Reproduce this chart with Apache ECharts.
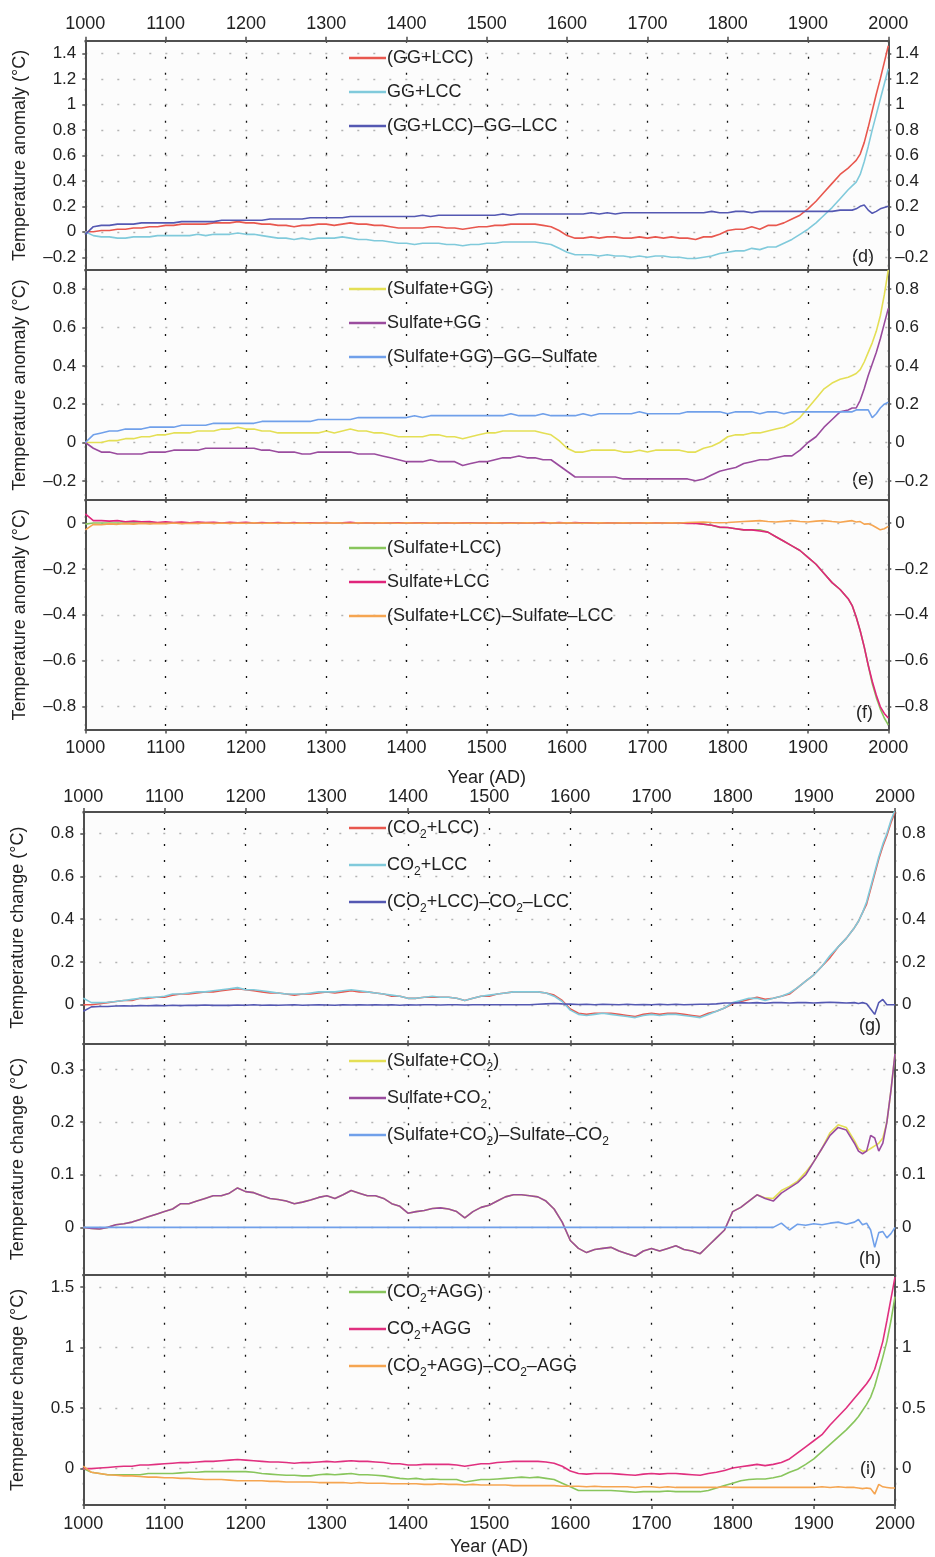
<!DOCTYPE html>
<html>
<head>
<meta charset="utf-8">
<script src="https://cdn.jsdelivr.net/npm/echarts@6.0.0/dist/echarts.min.js"></script>
<style>
html,body{margin:0;padding:0;background:#ffffff;}
#chart{width:935px;height:1557px;}
</style>
</head>
<body>
<div id="chart"></div>
<script>
// ---------------- DATA ----------------
const years = [
1000,1010,1020,1030,1040,1050,1060,1070,1080,1090,
1100,1110,1120,1130,1140,1150,1160,1170,1180,1190,
1200,1210,1220,1230,1240,1250,1260,1270,1280,1290,
1300,1310,1320,1330,1340,1350,1360,1370,1380,1390,
1400,1410,1420,1430,1440,1450,1460,1470,1480,1490,
1500,1510,1520,1530,1540,1550,1560,1570,1580,1590,
1600,1610,1620,1630,1640,1650,1660,1670,1680,1690,
1700,1710,1720,1730,1740,1750,1760,1770,1780,1790,
1800,1810,1820,1830,1840,1850,1860,1870,1880,1890,
1900,1910,1920,1930,1940,1950,
1955,1960,1965,1970,1975,1980,1985,1990,1995,2000];

// panel (d)
const dRed = [
0,0,0.01,0.01,0.02,0.02,0.03,0.03,0.04,0.04,
0.05,0.05,0.06,0.06,0.06,0.06,0.07,0.07,0.07,0.08,
0.07,0.07,0.06,0.06,0.05,0.05,0.04,0.05,0.05,0.06,
0.06,0.05,0.06,0.07,0.06,0.06,0.05,0.05,0.04,0.03,
0.03,0.03,0.03,0.04,0.04,0.03,0.03,0.02,0.03,0.04,
0.04,0.05,0.05,0.06,0.06,0.06,0.06,0.05,0.04,0.01,
-0.03,-0.05,-0.05,-0.04,-0.05,-0.04,-0.04,-0.05,-0.05,-0.04,
-0.05,-0.04,-0.05,-0.04,-0.05,-0.05,-0.06,-0.04,-0.04,-0.02,
0.01,0.02,0.02,0.04,0.02,0.05,0.05,0.07,0.1,0.13,
0.18,0.24,0.31,0.38,0.45,0.5,
0.53,0.56,0.61,0.7,0.82,0.95,1.08,1.2,1.33,1.46];
const dCyan = [
0,-0.03,-0.04,-0.04,-0.05,-0.05,-0.04,-0.04,-0.04,-0.03,
-0.03,-0.03,-0.03,-0.03,-0.02,-0.03,-0.02,-0.02,-0.02,-0.01,
-0.02,-0.02,-0.03,-0.04,-0.05,-0.05,-0.06,-0.05,-0.06,-0.05,
-0.05,-0.05,-0.04,-0.05,-0.06,-0.06,-0.07,-0.07,-0.08,-0.09,
-0.09,-0.1,-0.09,-0.09,-0.09,-0.1,-0.1,-0.11,-0.1,-0.1,
-0.09,-0.09,-0.08,-0.08,-0.08,-0.08,-0.08,-0.09,-0.1,-0.13,
-0.16,-0.18,-0.18,-0.18,-0.19,-0.18,-0.19,-0.19,-0.2,-0.19,
-0.2,-0.19,-0.19,-0.2,-0.2,-0.21,-0.21,-0.2,-0.19,-0.17,
-0.16,-0.15,-0.15,-0.13,-0.14,-0.12,-0.12,-0.09,-0.06,-0.02,
0.02,0.07,0.13,0.19,0.26,0.33,
0.36,0.39,0.45,0.55,0.67,0.8,0.92,1.04,1.16,1.28];
const dDiff = [
-0.02,0.04,0.05,0.05,0.06,0.06,0.06,0.07,0.07,0.07,
0.07,0.07,0.08,0.08,0.08,0.08,0.08,0.09,0.09,0.09,
0.09,0.09,0.09,0.1,0.1,0.1,0.1,0.1,0.11,0.11,
0.11,0.11,0.11,0.12,0.12,0.12,0.12,0.12,0.12,0.12,
0.12,0.12,0.13,0.12,0.13,0.13,0.13,0.13,0.13,0.13,
0.13,0.13,0.14,0.13,0.14,0.14,0.14,0.14,0.14,0.14,
0.14,0.14,0.14,0.15,0.14,0.15,0.14,0.15,0.15,0.15,
0.15,0.15,0.15,0.15,0.15,0.15,0.15,0.15,0.16,0.15,
0.15,0.16,0.16,0.15,0.16,0.16,0.16,0.16,0.16,0.16,
0.16,0.16,0.16,0.16,0.17,0.17,
0.17,0.18,0.2,0.21,0.17,0.145,0.16,0.18,0.19,0.2];

// panel (e)
const eYellow = [
0,0,0,0.01,0.01,0.02,0.02,0.03,0.03,0.04,
0.04,0.05,0.05,0.05,0.06,0.06,0.06,0.07,0.07,0.08,
0.07,0.07,0.06,0.06,0.05,0.05,0.05,0.05,0.05,0.05,
0.06,0.05,0.06,0.07,0.06,0.06,0.05,0.05,0.04,0.03,
0.03,0.03,0.03,0.04,0.04,0.03,0.03,0.02,0.03,0.04,
0.05,0.05,0.06,0.06,0.06,0.06,0.06,0.05,0.04,0.01,
-0.03,-0.05,-0.05,-0.04,-0.04,-0.04,-0.04,-0.05,-0.05,-0.04,
-0.05,-0.04,-0.04,-0.04,-0.04,-0.05,-0.05,-0.03,-0.02,0,
0.03,0.04,0.04,0.05,0.05,0.06,0.07,0.08,0.1,0.13,
0.18,0.23,0.28,0.31,0.33,0.34,
0.35,0.36,0.38,0.42,0.47,0.52,0.58,0.66,0.77,0.9];
const ePurple = [
0,-0.03,-0.05,-0.05,-0.06,-0.06,-0.06,-0.06,-0.05,-0.05,
-0.05,-0.04,-0.04,-0.04,-0.04,-0.03,-0.03,-0.03,-0.03,-0.03,
-0.03,-0.03,-0.04,-0.04,-0.05,-0.05,-0.05,-0.06,-0.06,-0.05,
-0.05,-0.05,-0.05,-0.05,-0.06,-0.06,-0.06,-0.07,-0.08,-0.09,
-0.1,-0.1,-0.1,-0.09,-0.1,-0.1,-0.1,-0.12,-0.11,-0.1,
-0.1,-0.09,-0.08,-0.08,-0.07,-0.08,-0.08,-0.09,-0.09,-0.12,
-0.15,-0.18,-0.18,-0.18,-0.18,-0.18,-0.18,-0.19,-0.19,-0.19,
-0.19,-0.19,-0.19,-0.19,-0.19,-0.19,-0.2,-0.19,-0.17,-0.15,
-0.14,-0.13,-0.11,-0.1,-0.09,-0.09,-0.08,-0.07,-0.07,-0.04,
0,0.03,0.08,0.12,0.16,0.17,
0.18,0.18,0.22,0.28,0.35,0.41,0.47,0.54,0.62,0.7];
const eDiff = [
0,0.04,0.05,0.06,0.06,0.07,0.07,0.07,0.08,0.08,
0.08,0.08,0.09,0.09,0.09,0.09,0.1,0.1,0.1,0.1,
0.1,0.1,0.11,0.11,0.11,0.11,0.11,0.11,0.11,0.12,
0.12,0.12,0.12,0.12,0.13,0.13,0.13,0.13,0.13,0.13,
0.13,0.14,0.13,0.14,0.14,0.14,0.14,0.14,0.14,0.14,
0.14,0.14,0.14,0.15,0.14,0.14,0.14,0.15,0.14,0.14,
0.14,0.14,0.15,0.14,0.15,0.15,0.15,0.15,0.15,0.16,
0.15,0.15,0.15,0.15,0.15,0.16,0.16,0.16,0.16,0.16,
0.15,0.16,0.16,0.16,0.15,0.16,0.16,0.15,0.16,0.16,
0.16,0.16,0.16,0.16,0.16,0.16,
0.16,0.17,0.17,0.17,0.17,0.13,0.15,0.18,0.2,0.21];

// panel (f)
const fGreen = [
-0.005,0,0,0,0,0,0,0,0,0,
0,0,0,0,0,0,0,0,0,0,
0,0,0,0,0,0,0,0,0,0,
0,0,0,0,0,0,0,0,0,0,
0,0,0,0,0,0,0,0,0,0,
0,0,0,0,0,0,0,0,0,0,
0,0,0,0,0,0,0,0,0,0,
0,0,0,0,0,0,0,-0.005,-0.01,-0.02,
-0.02,-0.025,-0.03,-0.03,-0.03,-0.04,-0.06,-0.08,-0.1,-0.12,
-0.15,-0.18,-0.22,-0.26,-0.29,-0.33,
-0.36,-0.41,-0.47,-0.54,-0.62,-0.7,-0.76,-0.81,-0.85,-0.88];
const fMagenta = [
0.04,0.01,0.01,0.008,0.01,0.005,0.008,0.005,0.006,0.002,
0.005,0.002,0.004,0.001,0.004,0.002,0.003,0,0.003,0.001,
0.003,0,0.002,0,0.002,0,0.002,-0.001,0.001,0,
0.002,0,0.001,0.003,0,0.001,-0.001,0.001,0,0.001,
0,0.001,0,0.001,-0.001,0.001,0,0.001,0,0,
0.001,0,0.001,0,0,0.001,0,0.002,0,0.002,
0,0.002,0,0.001,0,0.001,0,0.001,0,0.001,
0,0.001,0,0,0,-0.002,-0.002,-0.006,-0.01,-0.018,
-0.02,-0.025,-0.03,-0.03,-0.035,-0.04,-0.06,-0.08,-0.1,-0.12,
-0.15,-0.18,-0.22,-0.26,-0.29,-0.33,
-0.36,-0.41,-0.47,-0.54,-0.62,-0.69,-0.75,-0.8,-0.83,-0.85];
const fOrange = [
-0.03,-0.006,-0.008,-0.004,-0.006,-0.003,-0.005,-0.002,-0.004,-0.002,
-0.003,0,-0.003,-0.001,-0.002,0,-0.002,0,-0.002,0,
-0.001,0.001,-0.001,0,-0.001,0.001,-0.001,0,-0.001,0,
0,0.001,0,-0.001,0.001,0,0,0.001,0,-0.001,
0.001,0,-0.001,0.001,0,0,0.001,0,-0.001,0,
0,0.001,0,-0.001,0,0.001,0,-0.001,0.001,0,
0.001,0,-0.001,0,0.001,0,0,0.001,0,0,
0.001,0,0,0.001,0,0.002,0.003,0.004,0.002,0.001,
0.002,0.004,0.006,0.008,0.01,0.006,0.004,0.007,0.01,0.006,
0.004,0.008,0.01,0.006,0.003,0.008,
0.01,0.004,0.006,-0.005,-0.004,-0.01,-0.02,-0.03,-0.025,-0.015];

// panel (g)
const gRed = [
0,0,0.005,0.01,0.015,0.02,0.02,0.03,0.03,0.035,
0.035,0.045,0.05,0.05,0.055,0.06,0.06,0.065,0.07,0.075,
0.07,0.065,0.06,0.055,0.055,0.05,0.045,0.05,0.05,0.055,
0.06,0.055,0.06,0.065,0.06,0.06,0.055,0.05,0.04,0.04,
0.03,0.03,0.035,0.035,0.035,0.035,0.03,0.02,0.03,0.04,
0.04,0.05,0.055,0.06,0.06,0.06,0.06,0.055,0.045,0.02,
-0.02,-0.04,-0.045,-0.04,-0.04,-0.04,-0.045,-0.05,-0.055,-0.045,
-0.04,-0.045,-0.04,-0.04,-0.045,-0.05,-0.055,-0.04,-0.03,-0.015,
0.005,0.015,0.025,0.035,0.025,0.03,0.04,0.05,0.08,0.11,
0.14,0.18,0.22,0.27,0.31,0.36,
0.39,0.43,0.47,0.54,0.61,0.68,0.74,0.79,0.85,0.9];
const gCyan = [
0.03,0.01,0.01,0.012,0.015,0.02,0.025,0.03,0.035,0.035,
0.04,0.05,0.05,0.055,0.06,0.06,0.065,0.07,0.075,0.08,
0.07,0.07,0.065,0.06,0.055,0.05,0.05,0.05,0.055,0.06,
0.06,0.06,0.065,0.07,0.065,0.06,0.055,0.05,0.045,0.04,
0.03,0.03,0.035,0.04,0.035,0.035,0.03,0.02,0.03,0.04,
0.045,0.05,0.055,0.06,0.06,0.06,0.06,0.055,0.04,0.015,
-0.025,-0.045,-0.05,-0.045,-0.04,-0.045,-0.05,-0.055,-0.06,-0.05,
-0.045,-0.05,-0.045,-0.045,-0.05,-0.055,-0.06,-0.045,-0.03,-0.015,
0.01,0.02,0.03,0.03,0.02,0.03,0.04,0.055,0.08,0.11,
0.14,0.18,0.23,0.27,0.31,0.36,
0.39,0.43,0.48,0.55,0.62,0.69,0.75,0.8,0.86,0.91];
const gDiff = [
-0.03,-0.01,-0.008,-0.008,-0.006,-0.005,-0.006,-0.004,-0.005,-0.003,
-0.005,-0.002,-0.004,-0.002,-0.003,-0.001,-0.003,-0.002,-0.003,-0.001,
-0.002,0,-0.002,-0.001,-0.002,-0.001,0,-0.002,-0.001,0,
-0.001,-0.002,0,-0.001,0,-0.001,0,-0.001,0,-0.002,
0,-0.001,0,0,-0.001,0,0,-0.001,0,0,
0,0,0,0,0,0,0.002,0.004,0.006,0.004,
0.003,0.001,0.002,0,0.002,0.001,0,0.002,0,0.001,
0,0.002,0,0.002,0,0.001,0.002,0.002,0.004,0.008,
0.008,0.01,0.008,0.01,0.007,0.01,0.01,0.008,0.01,0.01,
0.008,0.01,0.012,0.01,0.008,0.01,
0.006,0.01,0.005,-0.02,-0.045,0.01,0.025,0,0,0];

// panel (h)
const hYellow = [
0,-0.002,-0.003,0,0.005,0.007,0.01,0.015,0.02,0.025,
0.03,0.035,0.045,0.045,0.05,0.055,0.06,0.06,0.065,0.075,
0.068,0.066,0.06,0.055,0.053,0.05,0.045,0.048,0.052,0.057,
0.06,0.055,0.062,0.07,0.065,0.06,0.06,0.055,0.045,0.04,
0.027,0.03,0.032,0.036,0.037,0.035,0.03,0.018,0.03,0.038,
0.042,0.05,0.058,0.062,0.062,0.06,0.058,0.05,0.035,0.01,
-0.025,-0.04,-0.048,-0.042,-0.04,-0.038,-0.045,-0.05,-0.055,-0.045,
-0.04,-0.045,-0.04,-0.035,-0.042,-0.045,-0.05,-0.035,-0.02,-0.005,
0.03,0.038,0.05,0.062,0.056,0.055,0.07,0.078,0.088,0.105,
0.125,0.15,0.18,0.195,0.19,0.165,
0.15,0.145,0.145,0.15,0.155,0.16,0.17,0.2,0.26,0.33];
const hPurple = [
0,-0.002,-0.003,0,0.005,0.007,0.01,0.015,0.02,0.025,
0.03,0.035,0.045,0.045,0.05,0.055,0.06,0.06,0.065,0.075,
0.068,0.066,0.06,0.055,0.053,0.05,0.045,0.048,0.052,0.057,
0.06,0.055,0.062,0.07,0.065,0.06,0.06,0.055,0.045,0.04,
0.027,0.03,0.032,0.036,0.037,0.035,0.03,0.018,0.03,0.038,
0.042,0.05,0.058,0.062,0.062,0.06,0.058,0.05,0.035,0.01,
-0.025,-0.04,-0.048,-0.042,-0.04,-0.038,-0.045,-0.05,-0.055,-0.045,
-0.04,-0.045,-0.04,-0.035,-0.042,-0.045,-0.05,-0.035,-0.02,-0.005,
0.03,0.038,0.05,0.062,0.055,0.05,0.065,0.075,0.085,0.1,
0.125,0.15,0.175,0.19,0.185,0.16,
0.145,0.14,0.145,0.175,0.17,0.145,0.16,0.2,0.26,0.33];
const hDiff = [
0,0,0,0,0,0,0,0,0,0,
0,0,0,0,0,0,0,0,0,0,
0,0,0,0,0,0,0,0,0,0,
0,0,0,0,0,0,0,0,0,0,
0,0,0,0,0,0,0,0,0,0,
0,0,0,0,0,0,0,0,0,0,
0,0,0,0,0,0,0,0,0,0,
0,0,0,0,0,0,0,0,0,0,
0,0,0,0,0,0,0.008,-0.005,0.006,0.004,
0.007,0.005,0.008,0.01,0.006,0.01,
0.015,0.005,0.008,-0.005,-0.038,-0.01,-0.008,-0.02,-0.012,0];

// panel (i)
const iGreen = [
0,-0.03,-0.04,-0.05,-0.05,-0.05,-0.05,-0.05,-0.04,-0.04,
-0.04,-0.04,-0.035,-0.03,-0.03,-0.025,-0.025,-0.025,-0.025,-0.025,
-0.025,-0.03,-0.04,-0.045,-0.05,-0.055,-0.055,-0.06,-0.06,-0.05,
-0.045,-0.05,-0.045,-0.04,-0.05,-0.05,-0.055,-0.06,-0.07,-0.08,
-0.085,-0.08,-0.09,-0.085,-0.09,-0.09,-0.09,-0.11,-0.1,-0.09,
-0.09,-0.085,-0.08,-0.075,-0.07,-0.075,-0.07,-0.08,-0.09,-0.12,
-0.15,-0.18,-0.18,-0.18,-0.18,-0.18,-0.185,-0.19,-0.195,-0.19,
-0.19,-0.19,-0.185,-0.19,-0.19,-0.19,-0.19,-0.18,-0.16,-0.14,
-0.12,-0.1,-0.09,-0.085,-0.085,-0.075,-0.06,-0.03,-0.005,0.035,
0.08,0.14,0.2,0.26,0.32,0.39,
0.43,0.48,0.53,0.59,0.68,0.8,0.92,1.05,1.22,1.42];
const iPink = [
0,0,0.005,0.01,0.015,0.02,0.02,0.03,0.03,0.035,
0.04,0.045,0.05,0.05,0.055,0.06,0.06,0.065,0.07,0.075,
0.07,0.065,0.06,0.055,0.055,0.05,0.045,0.05,0.05,0.055,
0.06,0.055,0.06,0.065,0.06,0.06,0.055,0.05,0.04,0.04,
0.03,0.03,0.035,0.035,0.035,0.035,0.03,0.02,0.03,0.04,
0.04,0.05,0.055,0.06,0.06,0.06,0.06,0.055,0.045,0.02,
-0.02,-0.04,-0.045,-0.04,-0.04,-0.04,-0.045,-0.05,-0.055,-0.045,
-0.04,-0.045,-0.04,-0.04,-0.045,-0.05,-0.055,-0.04,-0.03,-0.015,
0.005,0.015,0.025,0.035,0.025,0.035,0.05,0.08,0.13,0.18,
0.23,0.28,0.36,0.43,0.5,0.58,
0.62,0.66,0.7,0.75,0.82,0.93,1.05,1.22,1.4,1.58];
const iOrange = [
0.02,-0.03,-0.04,-0.05,-0.055,-0.06,-0.06,-0.065,-0.07,-0.07,
-0.075,-0.075,-0.08,-0.08,-0.085,-0.09,-0.09,-0.09,-0.095,-0.1,
-0.1,-0.1,-0.1,-0.105,-0.105,-0.11,-0.11,-0.11,-0.11,-0.115,
-0.115,-0.115,-0.115,-0.12,-0.115,-0.12,-0.12,-0.12,-0.125,-0.125,
-0.125,-0.125,-0.13,-0.13,-0.125,-0.13,-0.13,-0.135,-0.13,-0.135,
-0.135,-0.135,-0.135,-0.14,-0.14,-0.14,-0.14,-0.14,-0.14,-0.145,
-0.145,-0.145,-0.15,-0.145,-0.15,-0.15,-0.15,-0.15,-0.155,-0.15,
-0.15,-0.155,-0.15,-0.155,-0.155,-0.155,-0.155,-0.155,-0.155,-0.15,
-0.155,-0.155,-0.155,-0.155,-0.155,-0.155,-0.155,-0.155,-0.155,-0.155,
-0.155,-0.15,-0.155,-0.15,-0.155,-0.155,
-0.16,-0.165,-0.16,-0.165,-0.21,-0.13,-0.15,-0.155,-0.16,-0.16];

// tick labels
const xTicks = [1000,1100,1200,1300,1400,1500,1600,1700,1800,1900,2000];
const dTicks = [-0.2,0,0.2,0.4,0.6,0.8,1,1.2,1.4];
const eTicks = [-0.2,0,0.2,0.4,0.6,0.8];
const fTicks = [-0.8,-0.6,-0.4,-0.2,0];
const gTicks = [0,0.2,0.4,0.6,0.8];
const hTicks = [0,0.1,0.2,0.3];
const iTicks = [0,0.5,1,1.5];

// ---------------- STYLE / LAYOUT ----------------
const C = {
  red:'#e8574e', cyan:'#80cadb', navy:'#5458b2',
  yellow:'#e4df55', purple:'#9a4c9e', lblue:'#70a0ea',
  green:'#88c55c', magenta:'#e0257b', orange:'#f5a551', pink:'#e0307f'
};
const FONT = "'Liberation Sans', Arial, sans-serif";
const INK = '#222';
const FRAME = '#4f4f4f';

const panels = [
  {top:40.7, bottom:270, left:85.3, right:888.3, min:-0.3, max:1.5, ticks:dTicks, yname:'Temperature anomaly (°C)',
   topLab:true, botLab:false, legendTop:43, tag:'(d)', tagX:852, tagY:257,
   series:[['(GG+LCC)',dRed,C.red],['GG+LCC',dCyan,C.cyan],['(GG+LCC)–GG–LCC',dDiff,C.navy]]},
  {top:270, bottom:500, left:85.3, right:888.3, min:-0.3, max:0.9, ticks:eTicks, yname:'Temperature anomaly (°C)',
   topLab:false, botLab:false, legendTop:274, tag:'(e)', tagX:852, tagY:480,
   series:[['(Sulfate+GG)',eYellow,C.yellow],['Sulfate+GG',ePurple,C.purple],['(Sulfate+GG)–GG–Sulfate',eDiff,C.lblue]]},
  {top:500, bottom:729.5, left:85.3, right:888.3, min:-0.9, max:0.1, ticks:fTicks, yname:'Temperature anomaly (°C)',
   topLab:false, botLab:true, xname:'Year (AD)', xnameGap:40, legendTop:533, tag:'(f)', tagX:856, tagY:713,
   series:[['(Sulfate+LCC)',fGreen,C.green],['Sulfate+LCC',fMagenta,C.magenta],['(Sulfate+LCC)–Sulfate–LCC',fOrange,C.orange]]},
  {top:812, bottom:1043.3, left:83.3, right:895, min:-0.18, max:0.9, ticks:gTicks, yname:'Temperature change (°C)',
   topLab:true, botLab:false, legendTop:813, tag:'(g)', tagX:859, tagY:1026,
   series:[['(CO2+LCC)',gRed,C.red],['CO2+LCC',gCyan,C.cyan],['(CO2+LCC)–CO2–LCC',gDiff,C.navy]]},
  {top:1043.3, bottom:1274.7, left:83.3, right:895, min:-0.09, max:0.35, ticks:hTicks, yname:'Temperature change (°C)',
   topLab:false, botLab:false, legendTop:1046, tag:'(h)', tagX:859, tagY:1259,
   series:[['(Sulfate+CO2)',hYellow,C.yellow],['Sulfate+CO2',hPurple,C.purple],['(Sulfate+CO2)–Sulfate–CO2',hDiff,C.lblue]]},
  {top:1274.7, bottom:1506, left:83.3, right:895, min:-0.3, max:1.6, ticks:iTicks, yname:'Temperature change (°C)',
   topLab:false, botLab:true, xname:'Year (AD)', xnameGap:33, legendTop:1277, tag:'(i)', tagX:860, tagY:1469,
   series:[['(CO2+AGG)',iGreen,C.green],['CO2+AGG',iPink,C.pink],['(CO2+AGG)–CO2–AGG',iOrange,C.orange]]}
];

const fmt = v => {
  const r = Math.round(v * 100) / 100;
  return (r < 0 ? '–' : '') + String(Math.abs(r));
};
const xfmt = v => String(Math.round(v));

const option = {
  backgroundColor:'#ffffff',
  animation:false,
  grid:[], xAxis:[], yAxis:[], series:[], legend:[], graphic:[]
};

panels.forEach((p, k) => {
  option.grid.push({
    left:p.left, width:p.right - p.left, top:p.top, height:p.bottom - p.top,
    show:true, backgroundColor:'#fcfcfc', borderWidth:0, containLabel:false
  });
  const lineStyle = {color:FRAME, width:2};
  // bottom x axis
  option.xAxis.push({
    type:'value', gridIndex:k, position:'bottom', min:1000, max:2000, interval:100,
    axisLine:{show:true, onZero:false, lineStyle},
    axisTick:{show:true, inside:!p.botLab, length:p.botLab ? 4 : 3, lineStyle:{color:FRAME, width:1.5}},
    axisLabel:{show:p.botLab, margin:10, fontSize:18, fontFamily:FONT, color:INK, formatter:xfmt},
    splitLine:{show:true, lineStyle:{color:'#111', width:1.3, type:[2,14]}},
    name:p.xname || '', nameLocation:'middle', nameGap:p.xnameGap || 0,
    nameTextStyle:{fontSize:18, fontFamily:FONT, color:INK}
  });
  // top x axis
  option.xAxis.push({
    type:'value', gridIndex:k, position:'top', min:1000, max:2000, interval:100,
    axisLine:{show:true, onZero:false, lineStyle},
    axisTick:{show:true, inside:!p.topLab, length:p.topLab ? 4 : 3, lineStyle:{color:FRAME, width:1.5}},
    axisLabel:{show:p.topLab, margin:p.topLab && k === 0 ? 8 : 6, fontSize:18, fontFamily:FONT, color:INK, formatter:xfmt},
    splitLine:{show:false}
  });
  // left y axis
  option.yAxis.push({
    type:'value', gridIndex:k, position:'left', min:p.min, max:p.max,
    axisLine:{show:true, onZero:false, lineStyle},
    axisTick:{show:true, length:3, customValues:p.ticks, lineStyle:{color:FRAME, width:1.5}},
    axisLabel:{show:true, customValues:p.ticks, margin:9, fontSize:17, fontFamily:FONT, color:INK, formatter:fmt},
    splitLine:{show:true, lineStyle:{color:'#b3b3b3', width:1.3, type:[2,14]}},
    name:p.yname, nameLocation:'middle', nameGap:56,
    nameTextStyle:{fontSize:18, fontFamily:FONT, color:INK}
  });
  // right y axis
  option.yAxis.push({
    type:'value', gridIndex:k, position:'right', min:p.min, max:p.max,
    axisLine:{show:true, onZero:false, lineStyle},
    axisTick:{show:true, length:3, customValues:p.ticks, lineStyle:{color:FRAME, width:1.5}},
    axisLabel:{show:true, customValues:p.ticks, margin:7, fontSize:17, fontFamily:FONT, color:INK, formatter:fmt},
    splitLine:{show:false}
  });
  const names = [];
  p.series.forEach(([name, vals, color]) => {
    names.push(name);
    option.series.push({
      type:'line', name, xAxisIndex:2 * k, yAxisIndex:2 * k,
      data:years.map((y, i) => [y, vals[i]]),
      symbol:'none', showSymbol:false, clip:true,
      lineStyle:{color, width:1.6}, itemStyle:{color},
      emphasis:{disabled:true}
    });
  });
  option.legend.push({
    data:names, orient:'vertical', left:344, top:p.legendTop,
    icon:'rect', itemWidth:37, itemHeight:2.5, itemGap:14, selectedMode:false,
    textStyle:{fontSize:18, fontFamily:FONT, color:INK, lineHeight:20, padding:[0,0,0,-4],
      rich:{sub:{fontSize:12, fontFamily:FONT, color:INK, verticalAlign:'bottom', lineHeight:12, padding:[0,0,-3,0]}}},
    formatter:name => name.replace(/CO2/g, 'CO{sub|2}')
  });
  option.graphic.push({
    type:'text', x:p.tagX, y:p.tagY,
    style:{text:p.tag, fontSize:18, fontFamily:FONT, fill:INK, verticalAlign:'middle', align:'left'}
  });
});

const chart = echarts.init(document.getElementById('chart'), null, {renderer:'canvas'});
chart.setOption(option);
</script>
</body>
</html>
